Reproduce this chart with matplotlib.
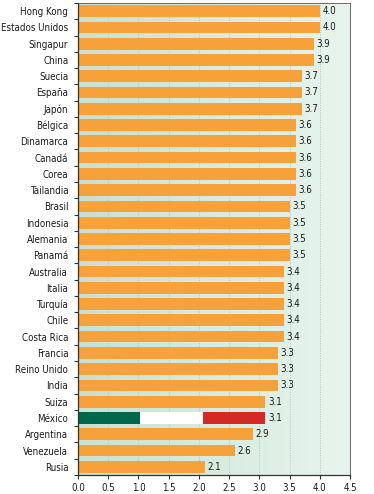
import numpy as np
import matplotlib.pyplot as plt
from matplotlib.colors import LinearSegmentedColormap
from matplotlib import font_manager

paises = ["Hong Kong", "Estados Unidos", "Singapur", "China", "Suecia", "España",
          "Japón", "Bélgica", "Dinamarca", "Canadá", "Corea", "Tailandia", "Brasil",
          "Indonesia", "Alemania", "Panamá", "Australia", "Italia", "Turquía", "Chile",
          "Costa Rica", "Francia", "Reino Unido", "India", "Suiza", "México",
          "Argentina", "Venezuela", "Rusia"]
valores = [4.0, 4.0, 3.9, 3.9, 3.7, 3.7, 3.7, 3.6, 3.6, 3.6, 3.6, 3.6, 3.5,
           3.5, 3.5, 3.5, 3.4, 3.4, 3.4, 3.4, 3.4, 3.3, 3.3, 3.3, 3.1, 3.1,
           2.9, 2.6, 2.1]
xticks = [0.0, 0.5, 1.0, 1.5, 2.0, 2.5, 3.0, 3.5, 4.0, 4.5]

naranja = "#f7a13a"
verde_mx = "#00684a"
blanco_mx = "#ffffff"
rojo_mx = "#d42a25"

# fuente estrecha
fp = font_manager.FontProperties(family="DejaVu Sans", stretch="condensed", size=7)

fig = plt.figure(figsize=(3.74, 4.94), dpi=100)
ax = fig.add_axes([0.2086, 0.0385, 0.7274, 0.9555])

n = len(paises)
y = np.arange(n)
xmax = 4.5

# fondo degradado
cmap = LinearSegmentedColormap.from_list("fondo", ["#c8e1d4", "#e8f5ee"])
grad = np.linspace(0, 1, 256).reshape(1, -1)
ax.imshow(grad, extent=[0, xmax, n - 0.5, -0.5], aspect="auto", cmap=cmap, zorder=0)

for xt in xticks[1:-1]:
    ax.axvline(xt, color="#a9c8b8", lw=0.7, ls=(0, (1, 1.5)), zorder=1)

h = 0.72
for i, (p, v) in enumerate(zip(paises, valores)):
    if p == "México":
        t = v / 3
        ax.barh(i, t, left=0, height=h, color=verde_mx, zorder=2)
        ax.barh(i, t, left=t, height=h, color=blanco_mx, zorder=2)
        ax.barh(i, t, left=2 * t, height=h, color=rojo_mx, zorder=2)
    else:
        ax.barh(i, v, height=h, color=naranja, zorder=2)
    ax.text(v + 0.04, i, f"{v:.1f}", va="center", ha="left", fontproperties=fp,
            color="#1a1a1a", zorder=3)

ax.set_xlim(0, xmax)
ax.set_ylim(n - 0.5, -0.5)
ax.set_xticks(xticks)
ax.set_xticklabels([f"{x:.1f}" for x in xticks], fontproperties=fp, color="#1a1a1a")
ax.set_yticks(y)
ax.set_yticklabels(paises, fontproperties=fp, color="#1a1a1a")
ax.tick_params(axis="y", length=0, pad=7)
ax.set_yticks(np.arange(n + 1) - 0.5, minor=True)
ax.tick_params(axis="y", which="minor", length=3, width=0.8, color="#333333")
ax.tick_params(axis="x", length=3, width=0.8, color="#333333", pad=3)

for s in ["left", "bottom"]:
    ax.spines[s].set_color("#333333")
    ax.spines[s].set_linewidth(0.9)
for s in ["top", "right"]:
    ax.spines[s].set_color("#555555")
    ax.spines[s].set_linewidth(0.6)

fig.savefig("out.png", dpi=100)
